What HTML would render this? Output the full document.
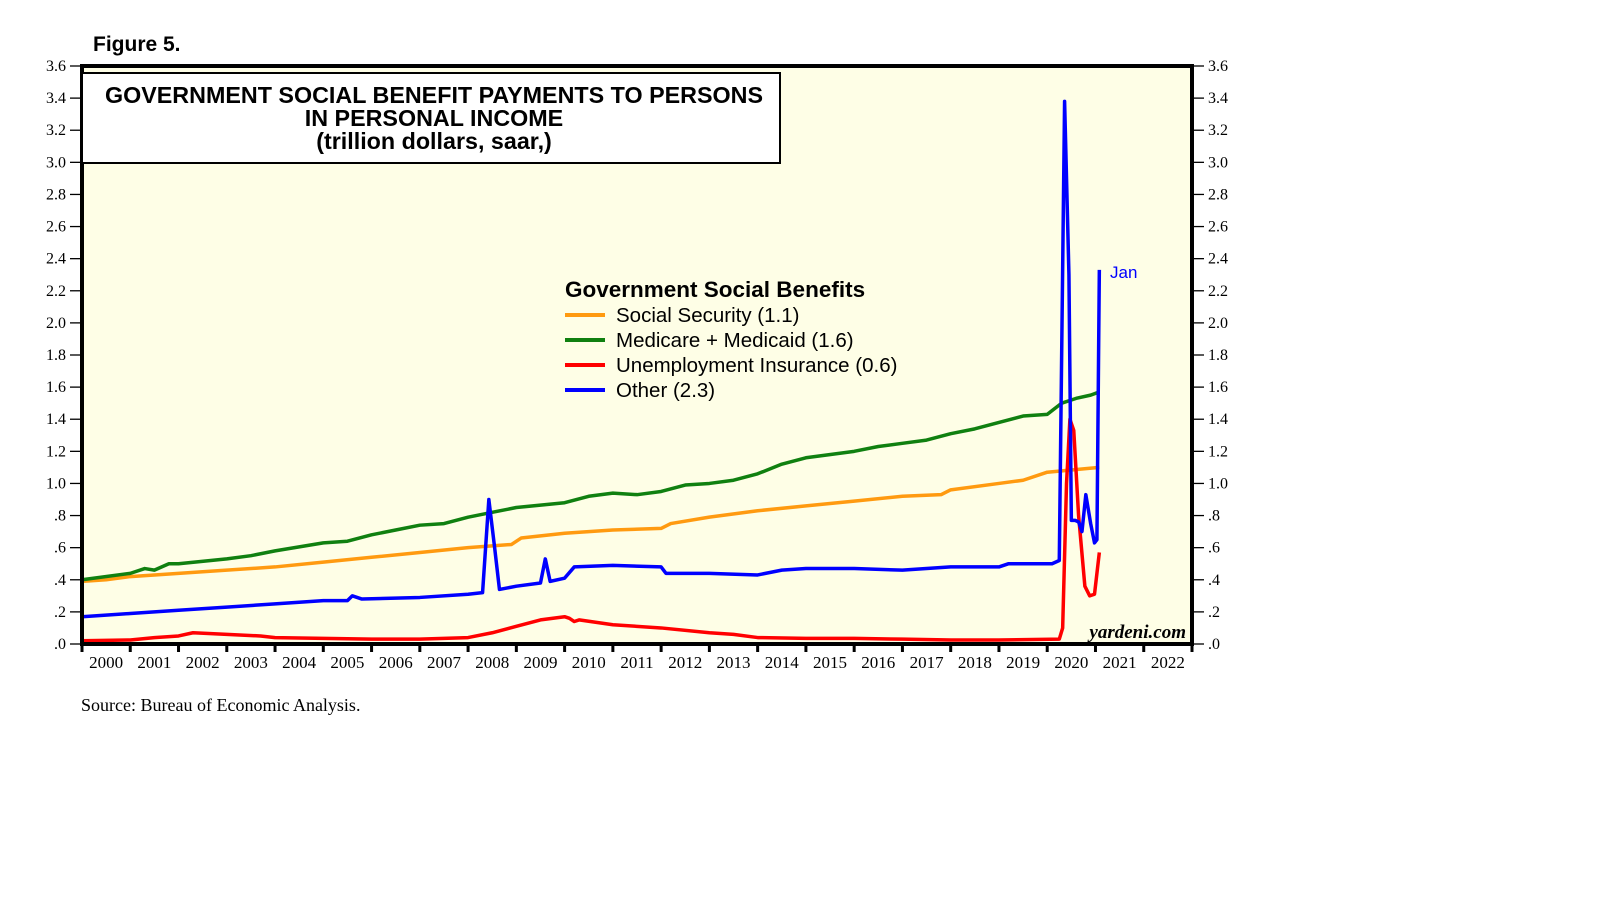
<!DOCTYPE html>
<html><head><meta charset="utf-8"><style>
body{margin:0;background:#fff;width:1610px;height:910px;overflow:hidden}
svg{display:block}
</style></head><body>
<svg id="chart" width="1610" height="910" xmlns="http://www.w3.org/2000/svg"></svg>
<script>
const yTicks=[0,0.2,0.4,0.6,0.8,1.0,1.2,1.4,1.6,1.8,2.0,2.2,2.4,2.6,2.8,3.0,3.2,3.4,3.6];
const yTickLabels=[".0",".2",".4",".6",".8","1.0","1.2","1.4","1.6","1.8","2.0","2.2","2.4","2.6","2.8","3.0","3.2","3.4","3.6"];
const years=[2000,2001,2002,2003,2004,2005,2006,2007,2008,2009,2010,2011,2012,2013,2014,2015,2016,2017,2018,2019,2020,2021,2022];
const ssT=[2000,2000.5,2001,2001.5,2002,2002.5,2003,2004,2005,2006,2007,2008,2008.9,2009.1,2010,2011,2012,2012.2,2013,2014,2015,2016,2017,2017.8,2018,2019,2019.5,2020,2021.08];
const ssV=[0.39,0.40,0.42,0.43,0.44,0.45,0.46,0.48,0.51,0.54,0.57,0.60,0.62,0.66,0.69,0.71,0.72,0.75,0.79,0.83,0.86,0.89,0.92,0.93,0.96,1.00,1.02,1.07,1.10];
const mcT=[2000,2001,2001.3,2001.5,2001.8,2002,2003,2003.5,2004,2005,2005.5,2006,2006.5,2007,2007.5,2008,2008.5,2009,2010,2010.5,2011,2011.5,2012,2012.5,2013,2013.5,2014,2014.5,2015,2016,2016.5,2017,2017.5,2018,2018.5,2019,2019.5,2020,2020.3,2020.6,2020.9,2021.08];
const mcV=[0.40,0.44,0.47,0.46,0.50,0.50,0.53,0.55,0.58,0.63,0.64,0.68,0.71,0.74,0.75,0.79,0.82,0.85,0.88,0.92,0.94,0.93,0.95,0.99,1.00,1.02,1.06,1.12,1.16,1.20,1.23,1.25,1.27,1.31,1.34,1.38,1.42,1.43,1.50,1.53,1.55,1.57];
const uiT=[2000,2001,2001.5,2002,2002.3,2003,2003.7,2004,2005,2006,2007,2008,2008.5,2009,2009.5,2010,2010.1,2010.2,2010.3,2011,2012,2013,2013.5,2014,2015,2016,2017,2018,2019,2020.25,2020.32,2020.4,2020.47,2020.55,2020.65,2020.78,2020.88,2020.98,2021.08];
const uiV=[0.02,0.025,0.04,0.05,0.07,0.06,0.05,0.04,0.035,0.03,0.03,0.04,0.07,0.11,0.15,0.17,0.16,0.14,0.15,0.12,0.10,0.07,0.06,0.04,0.035,0.035,0.03,0.025,0.025,0.03,0.10,1.0,1.40,1.33,0.80,0.36,0.30,0.31,0.57];
const otT=[2000,2001,2002,2003,2004,2005,2005.5,2005.6,2005.8,2007,2008,2008.3,2008.43,2008.55,2008.65,2009,2009.5,2009.6,2009.7,2010,2010.2,2011,2012,2012.1,2013,2014,2014.5,2015,2016,2017,2018,2019,2019.2,2020.1,2020.25,2020.36,2020.45,2020.5,2020.58,2020.65,2020.72,2020.8,2020.9,2020.98,2021.03,2021.08];
const otV=[0.17,0.19,0.21,0.23,0.25,0.27,0.27,0.30,0.28,0.29,0.31,0.32,0.90,0.60,0.34,0.36,0.38,0.53,0.39,0.41,0.48,0.49,0.48,0.44,0.44,0.43,0.46,0.47,0.47,0.46,0.48,0.48,0.50,0.50,0.52,3.38,2.30,0.77,0.77,0.76,0.70,0.93,0.75,0.63,0.65,2.33];

const L=82,R=1192,T=66,B=644;
const xS=t=>L+(t-2000)*(R-L)/23;
const yS=v=>B-v*(B-T)/3.6;
const NS="http://www.w3.org/2000/svg";
const svg=document.getElementById('chart');
function el(tag,attrs,parent){const e=document.createElementNS(NS,tag);for(const k in attrs)e.setAttribute(k,attrs[k]);(parent||svg).appendChild(e);return e;}
function txt(s,attrs,parent){const e=el('text',attrs,parent);e.textContent=s;return e;}

const bg=el('rect',{x:L,y:T,width:R-L,height:B-T,fill:'#fefee6'});



const ft=txt('Figure 5.',{x:93,y:51,'font-family':'Liberation Sans, sans-serif','font-weight':'bold','font-size':'21'});



yTicks.forEach((v,i)=>{
  const y=yS(v);
  el('line',{x1:L-12,x2:L,y1:y,y2:y,stroke:'#000','stroke-width':1.3});
  el('line',{x1:R,x2:R+12,y1:y,y2:y,stroke:'#000','stroke-width':1.3});
  const a=txt(yTickLabels[i],{x:L-16,y:y+5,'text-anchor':'end','font-family':'Liberation Serif, serif','font-size':'16'});
  
  
  const b=txt(yTickLabels[i],{x:R+16,y:y+5,'font-family':'Liberation Serif, serif','font-size':'16'});
  
  
});
for(let i=0;i<=23;i++){const x=xS(2000+i);el('line',{x1:x,x2:x,y1:B,y2:B+8,stroke:'#000','stroke-width':3});}
years.forEach(yr=>{
  const t=txt(String(yr),{x:xS(yr+0.5),y:B+24,'text-anchor':'middle','font-family':'Liberation Serif, serif','font-size':'17'});
  
  
});

function series(T_,V_,color,name){
  const p=el('polyline',{points:T_.map((t,i)=>xS(t)+','+yS(V_[i])).join(' '),fill:'none',stroke:color,'stroke-width':3.5,'stroke-linejoin':'round'});
  
  
}
series(ssT,ssV,'#ff9a10','social-security-line');
series(mcT,mcV,'#108010','medicare-medicaid-line');
series(uiT,uiV,'#ff0000','unemployment-insurance-line');
series(otT,otV,'#0000ff','other-line');

const fr=el('rect',{x:L,y:T,width:R-L,height:B-T,fill:'none',stroke:'#000','stroke-width':4});



const tb=el('g',{});


el('rect',{x:L,y:73,width:698,height:90,fill:'#fff',stroke:'#000','stroke-width':2},tb);
[['GOVERNMENT SOCIAL BENEFIT PAYMENTS TO PERSONS',103],['IN PERSONAL INCOME',126],['(trillion dollars, saar,)',149]].forEach(([s,y])=>{
  txt(s,{x:434,y:y,'text-anchor':'middle','font-family':'Liberation Sans, sans-serif','font-weight':'bold','font-size':'23.3'},tb);
});

const lg=el('g',{});


txt('Government Social Benefits',{x:565,y:297,'font-family':'Liberation Sans, sans-serif','font-weight':'bold','font-size':'22.5'},lg);
[['Social Security (1.1)','#ff9a10'],['Medicare + Medicaid (1.6)','#108010'],['Unemployment Insurance (0.6)','#ff0000'],['Other (2.3)','#0000ff']].forEach(([s,c],i)=>{
  const y=315+i*25;
  const g=el('g',{},lg);
  
  
  el('line',{x1:565,x2:605,y1:y,y2:y,stroke:c,'stroke-width':4},g);
  txt(s,{x:616,y:y+7,'font-family':'Liberation Sans, sans-serif','font-size':'20.5'},g);
});

const jan=txt('Jan',{x:1110,y:278,fill:'#0000ff','font-family':'Liberation Sans, sans-serif','font-size':'17'});



const wm=txt('yardeni.com',{x:1186,y:638,'text-anchor':'end','font-family':'Liberation Serif, serif','font-style':'italic','font-weight':'bold','font-size':'19'});



const src=txt('Source: Bureau of Economic Analysis.',{x:81,y:711,'font-family':'Liberation Serif, serif','font-size':'18'});


</script>
</body></html>
